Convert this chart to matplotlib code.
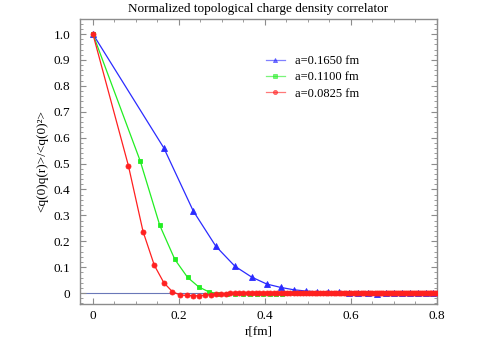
import matplotlib
matplotlib.use("Agg")
import matplotlib.pyplot as plt
from matplotlib.ticker import MultipleLocator, FuncFormatter

# ---- data (r in fm, normalized correlator) ----
labels = ["a=0.1650 fm", "a=0.1100 fm", "a=0.0825 fm"]

r_blue = [0.0, 0.165, 0.2333, 0.2858, 0.330, 0.3690, 0.4042, 0.4366, 0.4667, 0.495,
          0.5218, 0.5472, 0.5716, 0.5949, 0.6174, 0.6390, 0.660, 0.6803, 0.7000, 0.7192,
          0.7379, 0.7561, 0.7739, 0.7913, 0.8083]
y_blue = [1.0, 0.56, 0.317, 0.181, 0.104, 0.062, 0.035, 0.022, 0.013, 0.008,
          0.005, 0.005, 0.003, 0.002, 0.001, 0.001, -0.003, 0.000, 0.001, 0.000,
          0.000, 0.001, 0.000, 0.000, 0.000]

r_green = [0.0, 0.110, 0.1556, 0.1905, 0.220, 0.2460, 0.2694, 0.2910, 0.3111, 0.330,
           0.3479, 0.3648, 0.3811, 0.3966, 0.4116, 0.4260, 0.440, 0.4535, 0.4667, 0.4795,
           0.4919, 0.5041, 0.5159, 0.5275, 0.5389, 0.550, 0.5609, 0.5716, 0.5821, 0.5924,
           0.6025, 0.6125, 0.6223, 0.6319, 0.6414, 0.6508, 0.660, 0.6691, 0.6781, 0.6870,
           0.6957, 0.7043, 0.7129, 0.7213, 0.7297, 0.7379, 0.7461, 0.7541, 0.7621, 0.770,
           0.7778, 0.7856, 0.7932, 0.8008]
y_green = [1.0, 0.51, 0.261, 0.130, 0.061, 0.024, 0.005, -0.002, -0.004, -0.004,
           -0.004, -0.003, -0.003, -0.003, -0.002, -0.002, -0.002, -0.001, -0.001, -0.001,
           -0.001, -0.001, 0.000, -0.001, 0.000, 0.000, -0.001, 0.000, 0.000, 0.000,
           0.000, 0.000, -0.001, 0.000, 0.000, 0.000, 0.000, 0.000, 0.000, 0.000,
           0.000, 0.000, 0.000, 0.000, 0.000, 0.000, 0.000, 0.000, 0.000, 0.000,
           0.000, 0.000, 0.000, 0.000]

r_red = [0.0, 0.0825, 0.1167, 0.1429, 0.1650, 0.1845, 0.2021, 0.2183, 0.2333, 0.2475,
         0.2609, 0.2736, 0.2858, 0.2975, 0.3087, 0.3195, 0.3300, 0.3402, 0.3500, 0.3596,
         0.3689, 0.3781, 0.3870, 0.3957, 0.4042, 0.4125, 0.4207, 0.4287, 0.4365, 0.4443,
         0.4519, 0.4593, 0.4667, 0.4739, 0.4811, 0.4881, 0.4950, 0.5018, 0.5086, 0.5152,
         0.5218, 0.5283, 0.5347, 0.5410, 0.5472, 0.5534, 0.5595, 0.5656, 0.5716, 0.5775,
         0.5834, 0.5892, 0.5949, 0.6006, 0.6062, 0.6118, 0.6174, 0.6229, 0.6283, 0.6337,
         0.6390, 0.6443, 0.6496, 0.6548, 0.6600, 0.6651, 0.6702, 0.6753, 0.6803, 0.6853,
         0.6902, 0.6952, 0.7000, 0.7049, 0.7097, 0.7145, 0.7192, 0.7239, 0.7286, 0.7333,
         0.7379, 0.7425, 0.7471, 0.7516, 0.7561, 0.7606, 0.7651, 0.7695, 0.7739, 0.7783,
         0.7827, 0.7870, 0.7913, 0.7956, 0.7999, 0.8041]
y_red = [1.0, 0.492, 0.237, 0.107, 0.040, 0.006, -0.007, -0.009, -0.010, -0.010,
         -0.008, -0.006, -0.004, -0.003, -0.002, -0.001, 0.000, 0.001, 0.001, 0.002,
         0.002, 0.002, 0.001, 0.002, 0.001, 0.001, 0.001, 0.001, 0.001, 0.001,
         0.001, 0.001, 0.001, 0.001, 0.001, 0.000, 0.001, 0.001, 0.000, 0.001,
         0.000, 0.001, 0.000, 0.000, 0.001, 0.000, 0.000, 0.000, 0.001, 0.000,
         0.000, 0.000, 0.000, 0.000, 0.000, 0.000, 0.000, 0.000, 0.000, 0.000,
         0.000, 0.000, 0.000, 0.000, 0.000, 0.000, 0.000, 0.000, 0.000, 0.000,
         0.000, 0.000, 0.000, 0.000, 0.000, 0.000, 0.000, 0.000, 0.000, 0.000,
         0.000, 0.000, 0.000, 0.000, 0.000, 0.000, 0.000, 0.000, 0.000, 0.000,
         0.000, 0.000, 0.000, 0.000, 0.000, 0.000]

x_ticks = [0, 0.2, 0.4, 0.6, 0.8]
y_ticks = [0, 0.1, 0.2, 0.3, 0.4, 0.5, 0.6, 0.7, 0.8, 0.9, 1.0]

plt.rcParams['font.family'] = ['Liberation Serif', 'DejaVu Serif']

fig = plt.figure(figsize=(4.83, 3.38), dpi=100)
ax = fig.add_axes([80/483, 1-304/338, (437-80)/483, (304-19)/338])

ax.axhline(0, color='#6a78b8', lw=0.8, zorder=1)

series = [
    (r_blue, y_blue, '#2b2bff', '^', 3.8, labels[0]),
    (r_green, y_green, '#22ee22', 's', 3.3, labels[1]),
    (r_red, y_red, '#ff2020', 'o', 3.6, labels[2]),
]
for r, y, c, m, ms, lab in series:
    ax.plot(r, y, color=c, lw=0.9, marker=m, markersize=ms,
            markeredgewidth=0.6, markerfacecolor=c, markeredgecolor=c,
            label=lab, zorder=3, clip_on=True)

ax.set_xlim(-0.03, 0.8)
ax.set_ylim(-0.042, 1.058)
ax.set_xticks(x_ticks)
ax.set_yticks(y_ticks)
ax.xaxis.set_minor_locator(MultipleLocator(0.05))
ax.yaxis.set_minor_locator(MultipleLocator(0.02))

def fmt(v, pos):
    if abs(v) < 1e-9:
        return "0"
    return f"{v:.1f}"
ax.xaxis.set_major_formatter(FuncFormatter(fmt))
ax.yaxis.set_major_formatter(FuncFormatter(fmt))

frame_c = '#8c8c8c'
for s in ax.spines.values():
    s.set_color(frame_c)
    s.set_linewidth(1.0)
ax.tick_params(which='both', direction='in', top=True, right=True,
               color=frame_c, labelsize=9.5, labelcolor='black')
ax.tick_params(which='major', length=4, width=0.8)
ax.tick_params(which='minor', length=2, width=0.6)
ax.tick_params(axis='y', pad=7)
ax.tick_params(axis='x', pad=4)

ax.set_title("Normalized topological charge density correlator", fontsize=9.5, pad=5)
ax.set_xlabel("r[fm]", fontsize=9.5, labelpad=2.5)
ax.set_ylabel("<q(0)q(r)>/<q(0)²>", fontsize=9.5, labelpad=4)

leg = ax.legend(loc='upper left', bbox_to_anchor=(266/483, 1-55/338),
                bbox_transform=fig.transFigure, frameon=False, fontsize=9,
                handlelength=1.5, handletextpad=0.8, labelspacing=0.35,
                borderpad=0, borderaxespad=0)
for h in leg.legend_handles:
    h.set_alpha(0.6)
    h.set_markersize(3)

fig.savefig("out.png", dpi=100)
